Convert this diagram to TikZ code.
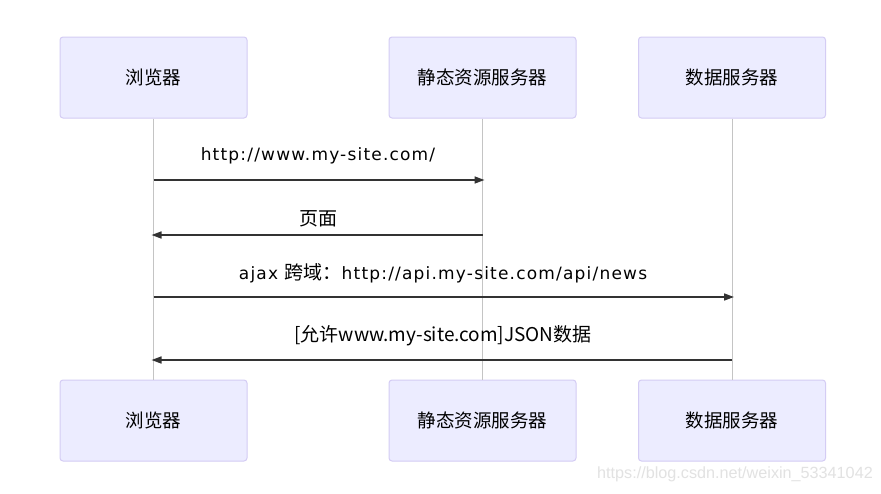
\documentclass[tikz,border=0pt]{standalone}
\usepackage{fontspec}
\setmainfont{Noto Sans CJK SC}
\newfontfamily\latinsans[LetterSpace=7]{DejaVu Sans}
\newfontfamily\wmfont{Liberation Sans}
\usetikzlibrary{arrows.meta}
\definecolor{actfill}{HTML}{ECECFF}
\definecolor{actdraw}{HTML}{D4CCF4}
\definecolor{lifegray}{HTML}{C4C4C4}
\definecolor{msgcol}{HTML}{333333}
\definecolor{wmgray}{HTML}{E2E2E2}
\begin{document}
\begin{tikzpicture}[x=1pt,y=-1pt,
  actor/.style={draw=actdraw,fill=actfill,line width=1pt,rounded corners=3pt,
    minimum width=187pt,minimum height=81pt,inner sep=0pt,font=\fontsize{18.5}{20}\selectfont},
  life/.style={draw=lifegray,line width=0.8pt},
  msg/.style={draw=msgcol,line width=1.6pt,-{Triangle[length=10pt,width=7pt]}},
  lbl/.style={font=\fontsize{19}{21}\selectfont,text=black,inner sep=0pt},
  lat/.style={font=\latinsans\fontsize{17}{20}\selectfont,text=black,inner sep=0pt}]
\useasboundingbox (0,0) rectangle (881,493);
\fill[white] (0,0) rectangle (881,493);
% actors top
\node[actor] (b1) at (153.5,77.5) {浏览器};
\node[actor] (s1) at (482.5,77.5) {静态资源服务器};
\node[actor] (d1) at (732,77.5) {数据服务器};
% actors bottom
\node[actor] (b2) at (153.5,420.5) {浏览器};
\node[actor] (s2) at (482.5,420.5) {静态资源服务器};
\node[actor] (d2) at (732,420.5) {数据服务器};
% lifelines
\draw[life] (b1.south) -- (b2.north);
\draw[life] (s1.south) -- (s2.north);
\draw[life] (d1.south) -- (d2.north);
% message anchors
\coordinate (m1b) at (b1.south |- 0,180);
\coordinate (m1s) at (s1.south |- 0,180);
\coordinate (m2s) at (s1.south |- 0,235);
\coordinate (m2b) at (b1.south |- 0,235);
\coordinate (m3b) at (b1.south |- 0,297);
\coordinate (m3d) at (d1.south |- 0,297);
\coordinate (m4d) at (d1.south |- 0,360);
\coordinate (m4b) at (b1.south |- 0,360);
\draw[msg] (m1b) -- ([xshift=2pt]m1s);
\draw[msg] (m2s) -- ([xshift=-2pt]m2b);
\draw[msg] (m3b) -- ([xshift=2pt]m3d);
\draw[msg] (m4d) -- ([xshift=-2pt]m4b);
% labels
\node[lat] (l1) at (318,156) {http://www.my-site.com/};
\node[lat] (l3) at (443,273) {ajax {\rmfamily\fontsize{19}{21}\selectfont 跨域：}http://api.my-site.com/api/news};
\node[lbl] (l2) at (318,219) {页面};
\node[lbl] (l4) at (443,336) {[允许www.my-site.com]JSON数据};
% watermark
\node[anchor=east,inner sep=0pt,text=wmgray,font=\wmfont\fontsize{16.2}{18}\selectfont] (wm) at (873,474) {https://blog.csdn.net/weixin\_53341042};
\end{tikzpicture}
\end{document}
